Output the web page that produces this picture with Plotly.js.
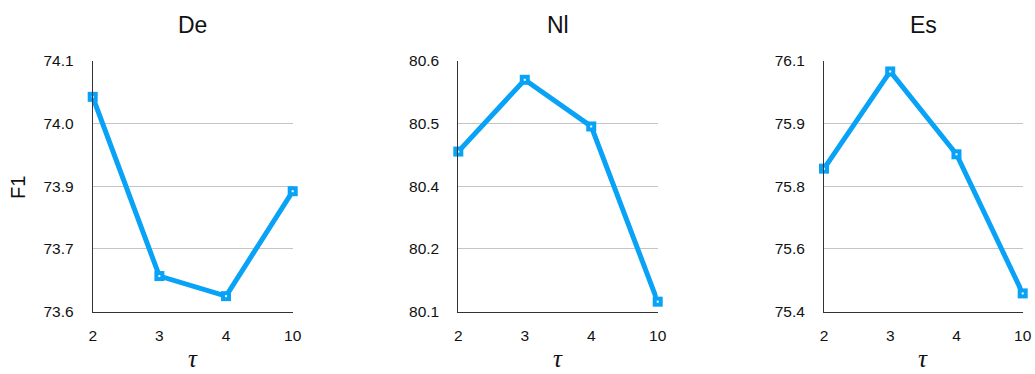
<!DOCTYPE html>
<html>
<head>
<meta charset="utf-8">
<script src="https://cdn.plot.ly/plotly-3.0.1.min.js"></script>
<style>html,body{margin:0;padding:0;background:#fff;}#chart{width:1035px;height:374px;}</style>
</head>
<body>
<div id="chart"></div>
<script>
// ---- data ----
const tauCategories = ['2', '3', '4', '10'];
const panelTitles = ['De', 'Nl', 'Es'];
const deF1 = [74.028, 73.671, 73.631, 73.840];
const nlF1 = [80.419, 80.562, 80.469, 80.120];
const esF1 = [75.799, 76.070, 75.839, 75.451];
const deTickVals = [73.6, 73.725, 73.85, 73.975, 74.1];
const nlTickVals = [80.1, 80.225, 80.35, 80.475, 80.6];
const esTickVals = [75.4, 75.575, 75.75, 75.925, 76.1];
const deTickText = ['73.6', '73.7', '73.9', '74.0', '74.1'];
const nlTickText = ['80.1', '80.2', '80.4', '80.5', '80.6'];
const esTickText = ['75.4', '75.6', '75.8', '75.9', '76.1'];
const yLabel = 'F1';
const xLabel = 'τ';

// ---- styling ----
const W = 1035, H = 374;
const blue = '#08A2F6';
const series = [deF1, nlF1, esF1];
const tickVals = [deTickVals, nlTickVals, esTickVals];
const tickTexts = [deTickText, nlTickText, esTickText];
const xPix = [[92.7, 292.7], [458.3, 657.7], [824, 1022.7]];
const yTop = 60.7, yBot = 311.7;

const traces = [];
const layout = {
  width: W, height: H,
  margin: {l: 0, r: 0, t: 0, b: 0},
  paper_bgcolor: '#fff', plot_bgcolor: '#fff',
  showlegend: false,
  font: {family: 'Liberation Sans, Arial, sans-serif', color: '#111'},
  annotations: []
};

series.forEach((vals, i) => {
  const sfx = i === 0 ? '' : String(i + 1);
  traces.push({
    x: tauCategories, y: vals, xaxis: 'x' + sfx, yaxis: 'y' + sfx,
    type: 'scatter', mode: 'lines+markers', cliponaxis: false,
    line: {color: blue, width: 5},
    marker: {symbol: 'square', size: 10, color: blue, line: {width: 0}},
    hoverinfo: 'skip'
  });
  traces.push({
    x: tauCategories, y: vals, xaxis: 'x' + sfx, yaxis: 'y' + sfx,
    type: 'scatter', mode: 'markers', cliponaxis: false,
    marker: {symbol: 'square', size: 2, color: '#fff', line: {width: 0}},
    hoverinfo: 'skip'
  });
  const tv = tickVals[i];
  layout['xaxis' + sfx] = {
    domain: [xPix[i][0] / W, xPix[i][1] / W],
    anchor: 'y' + sfx,
    type: 'category', range: [0, 3],
    showgrid: false, zeroline: false,
    showline: true, linecolor: '#333', linewidth: 1,
    ticks: '', ticklabelstandoff: 10,
    tickfont: {size: 15.5, color: '#111'}
  };
  layout['yaxis' + sfx] = {
    domain: [1 - yBot / H, 1 - yTop / H],
    anchor: 'x' + sfx,
    range: [tv[0], tv[tv.length - 1]],
    tickvals: tv, ticktext: tickTexts[i],
    showgrid: true, gridcolor: '#c4c4c4', gridwidth: 1,
    zeroline: false,
    showline: true, linecolor: '#333', linewidth: 1,
    ticks: '', ticklabelstandoff: 15,
    tickfont: {size: 15.5, color: '#111'}
  };
  layout.annotations.push({
    text: panelTitles[i], xref: 'x' + sfx + ' domain', yref: 'paper',
    x: 0.5, y: 1 - 25 / H, xanchor: 'center', yanchor: 'middle',
    showarrow: false, font: {size: 23, color: '#111'}
  });
  layout.annotations.push({
    text: '<i>' + xLabel + '</i>', xref: 'x' + sfx + ' domain', yref: 'paper',
    x: 0.5, y: 1 - 358 / H, xanchor: 'center', yanchor: 'middle',
    showarrow: false, font: {size: 25, family: 'Liberation Serif, Times New Roman, serif', color: '#111'}
  });
});

layout.annotations.push({
  text: yLabel, xref: 'paper', yref: 'paper',
  x: 18 / W, y: 1 - 188 / H, xanchor: 'center', yanchor: 'middle',
  textangle: -90, showarrow: false, font: {size: 20, color: '#111'}
});

Plotly.newPlot('chart', traces, layout, {staticPlot: true, displayModeBar: false});
</script>
</body>
</html>
